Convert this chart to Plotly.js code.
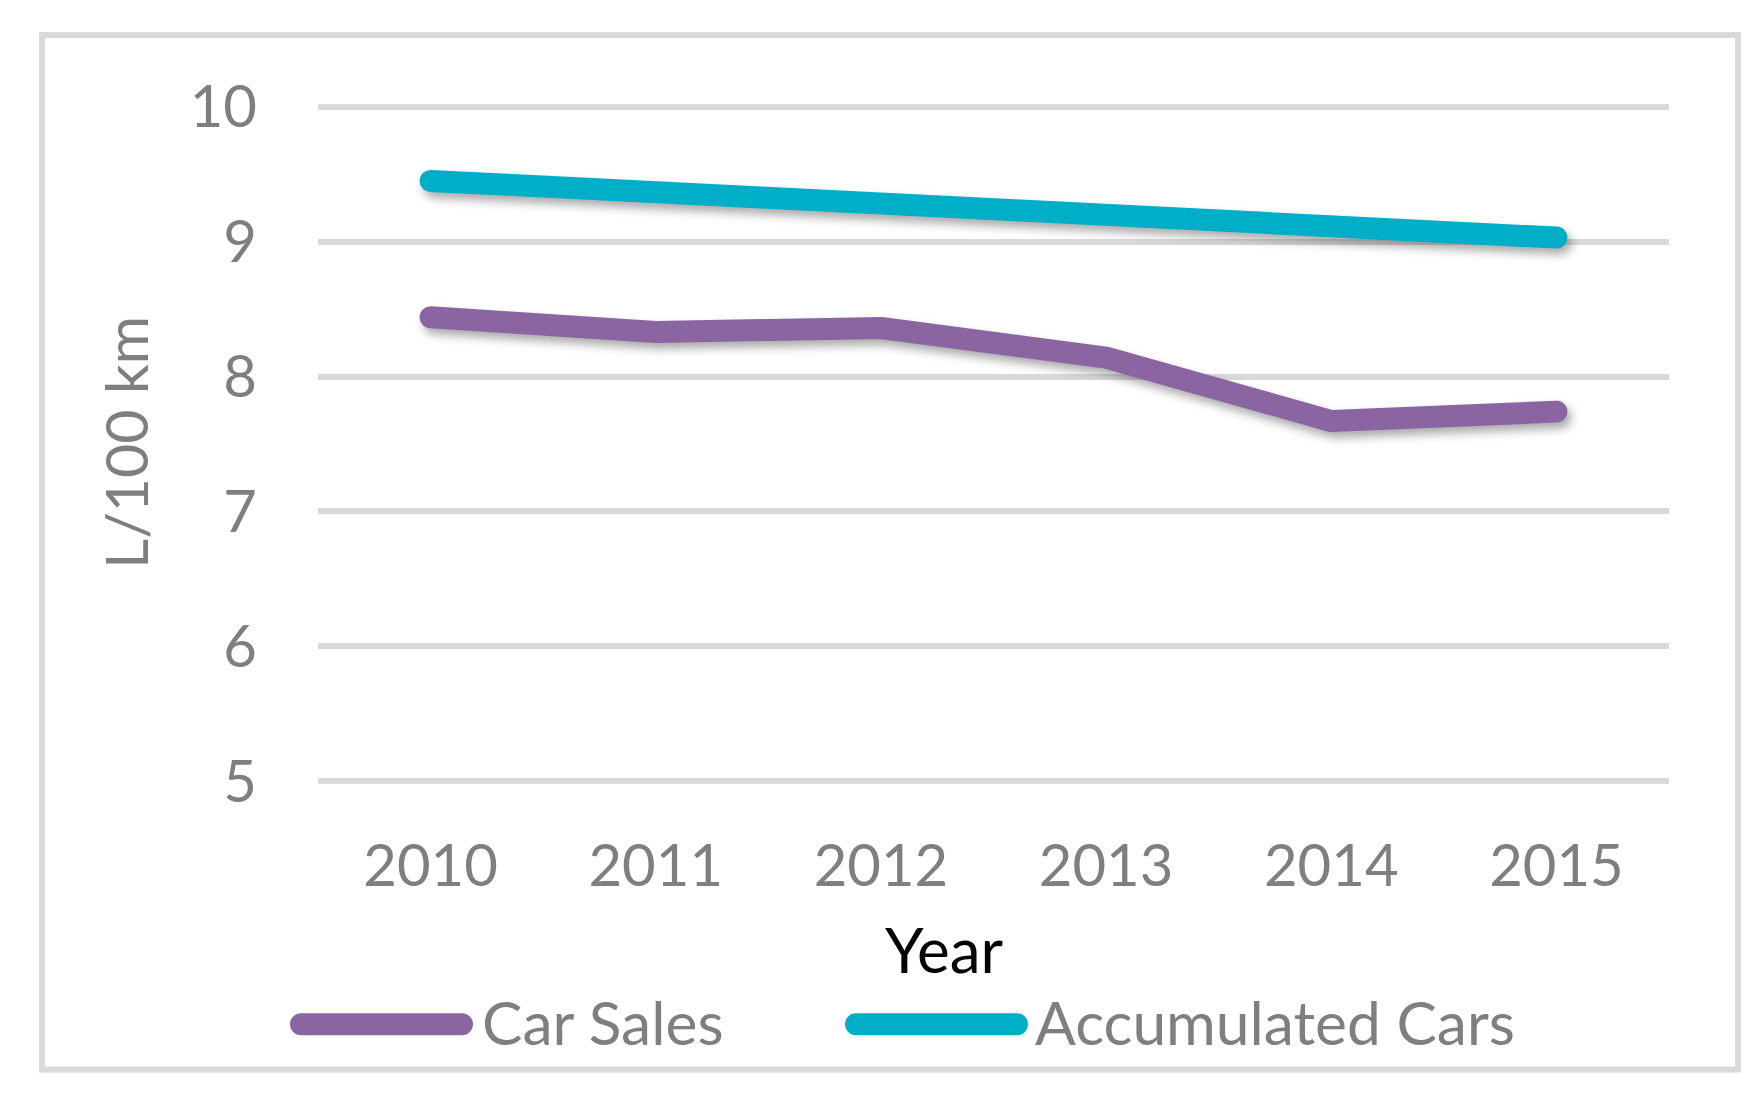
<!DOCTYPE html>
<html>
<head>
<meta charset="utf-8">
<script src="https://cdn.plot.ly/plotly-3.0.1.min.js"></script>
<style>
  html, body { margin: 0; padding: 0; background: #ffffff; }
  #chart { width: 1763px; height: 1096px; }
  .scatterlayer .js-line { stroke-linecap: round; stroke-linejoin: round; }
  .scatterlayer { filter: drop-shadow(4px 6px 5px rgba(0,0,0,0.33)); }
  .shapelayer path { stroke-linecap: round; }
</style>
</head>
<body>
<div id="chart"></div>
<script>
// ---- data ----
const years = ['2010', '2011', '2012', '2013', '2014', '2015'];
const carSales = [8.44, 8.33, 8.36, 8.14, 7.67, 7.74];
const accumulatedCars = [9.45, 9.37, 9.29, 9.19, 9.10, 9.03];
const seriesNames = ['Car Sales', 'Accumulated Cars'];
const yTickVals = [5, 6, 7, 8, 9, 10];
const yAxisTitle = 'L/100 km';
const xAxisTitle = 'Year';

// ---- styling ----
const colors = ['#8b64a2', '#00aec7'];
const FONT = 'Lato, "Open Sans", sans-serif';
const GRAY = '#7f7f7f';
const FS = 58;
const LW = 22;

const W = 1763, H = 1096;
const L = 318, R = 1669, T = 104.0, B = 784.4;
const pw = R - L, ph = B - T;
const px = x => (x - L) / pw;
const py = y => (B - y) / ph;

const traces = [carSales, accumulatedCars].map((vals, i) => ({
  type: 'scatter',
  mode: 'lines',
  x: years,
  y: vals,
  name: seriesNames[i],
  line: { color: colors[i], width: LW },
  showlegend: false,
  hoverinfo: 'skip'
}));

// legend built from series names/colors
const legendLines = [[301, 462], [856, 1017]];
const legendTextX = [481, 1034];
const legendY = 1024.7;

const shapes = [
  {
    type: 'rect', xref: 'paper', yref: 'paper',
    x0: px(42), x1: px(1738), y0: py(1070), y1: py(35),
    line: { color: '#d9d9d9', width: 6 }, fillcolor: 'rgba(0,0,0,0)', layer: 'below'
  }
];
const annotations = [
  {
    xref: 'paper', yref: 'paper', x: px(944), y: py(949),
    text: xAxisTitle, showarrow: false, xanchor: 'center', yanchor: 'middle',
    font: { family: FONT, size: 62, color: '#000000' }
  },
  {
    xref: 'paper', yref: 'paper', x: px(125), y: py(443.3),
    text: yAxisTitle, showarrow: false, textangle: -90, xanchor: 'center', yanchor: 'middle',
    font: { family: FONT, size: 59, color: GRAY }
  }
];
seriesNames.forEach((name, i) => {
  shapes.push({
    type: 'line', xref: 'paper', yref: 'paper',
    x0: px(legendLines[i][0]), x1: px(legendLines[i][1]),
    y0: py(legendY), y1: py(legendY),
    line: { color: colors[i], width: LW }
  });
  annotations.push({
    xref: 'paper', yref: 'paper', x: px(legendTextX[i]), y: py(1022),
    text: name, showarrow: false, xanchor: 'left', yanchor: 'middle',
    borderpad: 0,
    font: { family: FONT, size: 60.5, color: GRAY }
  });
});

const layout = {
  width: W, height: H,
  margin: { l: L, r: W - R, t: T, b: H - B, pad: 0 },
  paper_bgcolor: '#ffffff',
  plot_bgcolor: '#ffffff',
  showlegend: false,
  font: { family: FONT, color: GRAY, size: FS },
  xaxis: {
    type: 'category',
    range: [-0.5, years.length - 0.5],
    showgrid: false, zeroline: false, showline: false,
    ticks: '',
    ticklabelstandoff: 43,
    tickfont: { family: FONT, size: FS, color: GRAY },
    fixedrange: true
  },
  yaxis: {
    range: [4.98, 10.02],
    tickvals: yTickVals,
    ticktext: yTickVals.map(String),
    showgrid: true, gridcolor: '#d9d9d9', gridwidth: 6,
    zeroline: false, showline: false,
    ticks: '',
    ticklabelstandoff: 60,
    tickfont: { family: FONT, size: FS, color: GRAY },
    fixedrange: true
  },
  shapes: shapes,
  annotations: annotations
};

Plotly.newPlot('chart', traces, layout, { staticPlot: true, displayModeBar: false });
</script>
</body>
</html>
